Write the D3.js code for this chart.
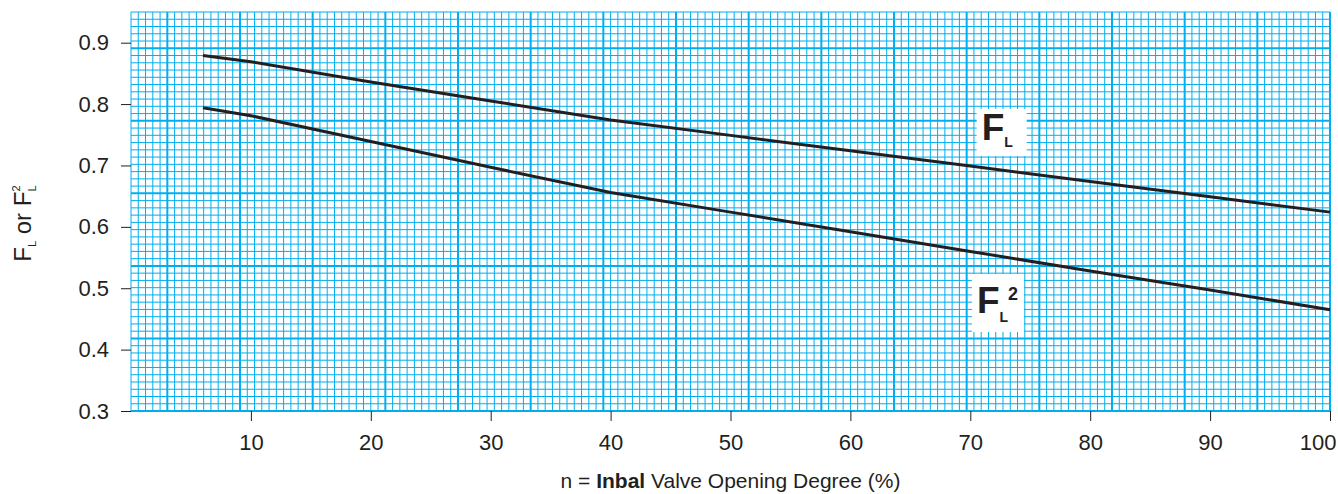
<!DOCTYPE html>
<html>
<head>
<meta charset="utf-8">
<script src="https://cdn.jsdelivr.net/npm/d3@7"></script>
<style>
  body { margin: 0; background: #fff; }
  svg { display: block; }
  text { font-family: "Liberation Sans", Arial, sans-serif; fill: #231f20; }
</style>
</head>
<body>
<script>
// valve opening (%) and the two read-off curves
const opening = [6, 10, 20, 30, 40, 50, 60, 70, 80, 90, 100];
const flValues = [0.879, 0.869, 0.836, 0.805, 0.774, 0.749, 0.724, 0.699, 0.674, 0.649, 0.624];
const fl2Values = [0.794, 0.781, 0.739, 0.697, 0.656, 0.624, 0.592, 0.560, 0.528, 0.497, 0.465];

const xTicks = [10, 20, 30, 40, 50, 60, 70, 80, 90, 100];
const yTicks = [0.3, 0.4, 0.5, 0.6, 0.7, 0.8, 0.9];

// graph paper: 165 x 55 small cells, heavy line every 10 (offset 5)
const gridCols = 165, gridRows = 55;

var width = 1338, height = 494;
var margin = { top: 12, right: 8, bottom: 83, left: 131 };

var x = d3.scaleLinear().domain([0, 100]).range([margin.left, width - margin.right]);
var y = d3.scaleLinear().domain([0.3, 0.95]).range([height - margin.bottom, margin.top]);

var gx = d3.scaleLinear().domain([0, gridCols]).range(x.range());
var gy = d3.scaleLinear().domain([0, gridRows]).range([y(0.95), y(0.3)]);

const svg = d3.select('body').append('svg')
  .attr('width', width)
  .attr('height', height);

// grid
const grid = svg.append('g').attr('stroke', '#00aeef');
grid.selectAll('line.v')
  .data(d3.range(0, gridCols + 1))
  .join('line')
  .attr('class', 'v')
  .attr('x1', d => gx(d)).attr('x2', d => gx(d))
  .attr('y1', gy(0)).attr('y2', gy(gridRows))
  .attr('stroke-width', d => ((d - 5) % 10 === 0 ? 2 : 1));

grid.selectAll('line.h')
  .data(d3.range(0, gridRows + 1))
  .join('line')
  .attr('class', 'h')
  .attr('y1', d => gy(d)).attr('y2', d => gy(d))
  .attr('x1', gx(0)).attr('x2', gx(gridCols))
  .attr('stroke-width', d => ((d - 5) % 10 === 0 ? 2 : 1));

// axes
const yAxis = d3.axisLeft(y).tickValues(yTicks).tickSize(10).tickPadding(12)
  .tickFormat(d3.format('.1f'));
const xAxis = d3.axisBottom(x).tickValues(xTicks).tickSize(10).tickPadding(13);

const gY = svg.append('g').attr('transform', `translate(${margin.left},0)`).call(yAxis);
const gX = svg.append('g').attr('transform', `translate(0,${y(0.3)})`).call(xAxis);
[gX, gY].forEach(g => {
  g.select('.domain').remove();
  g.selectAll('.tick line').attr('stroke', '#231f20');
  g.selectAll('.tick text').attr('fill', '#231f20').style('font-size', '22px');
});
// last label sits flush with the right edge
gX.selectAll('.tick text').filter(d => d === 100)
  .attr('text-anchor', 'end').attr('x', 6);

// curves
const line = d3.line().x((d, i) => x(opening[i])).y(d => y(d));
[flValues, fl2Values].forEach(vals => {
  svg.append('path')
    .attr('d', line(vals))
    .attr('fill', 'none')
    .attr('stroke', '#231f20')
    .attr('stroke-width', 3);
});

// curve labels
const labels = [
  { at: [71.2, 0.7415], sup: false },
  { at: [70.8, 0.4597], sup: true }
];
labels.forEach(l => {
  const px = x(l.at[0]), py = y(l.at[1]);
  svg.append('rect')
    .attr('x', px - 8).attr('y', l.sup ? py - 39 : py - 31)
    .attr('width', l.sup ? 52 : 50).attr('height', l.sup ? 58 : 47)
    .attr('fill', '#fff');
  const t = svg.append('text').attr('x', px - 3).attr('y', py)
    .style('font-weight', 'bold');
  t.append('tspan').style('font-size', '37px').text('F');
  t.append('tspan').style('font-size', '14px').attr('dy', l.sup ? 9 : 7).text('L');
  if (l.sup) {
    t.append('tspan').style('font-size', '18px').attr('dx', 0).attr('dy', -22).text('2');
  }
});

// axis titles
const yt = svg.append('text')
  .attr('transform', `translate(31,${(y(0.3) + y(0.95)) / 2 + 12}) rotate(-90)`)
  .attr('text-anchor', 'middle')
  .style('font-size', '24px');
yt.append('tspan').text('F');
yt.append('tspan').style('font-size', '11px').attr('dy', 5).text('L');
yt.append('tspan').attr('dy', -5).text(' or F');
yt.append('tspan').style('font-size', '11px').attr('dy', 5).text('L');
yt.append('tspan').style('font-size', '11px').attr('dx', -6).attr('dy', -16).text('2');

const xt = svg.append('text')
  .attr('x', (x(0) + x(100)) / 2)
  .attr('y', 488)
  .attr('text-anchor', 'middle')
  .style('font-size', '21px');
xt.append('tspan').text('n = ');
xt.append('tspan').style('font-weight', 'bold').text('Inbal');
xt.append('tspan').text(' Valve Opening Degree (%)');
</script>
</body>
</html>
